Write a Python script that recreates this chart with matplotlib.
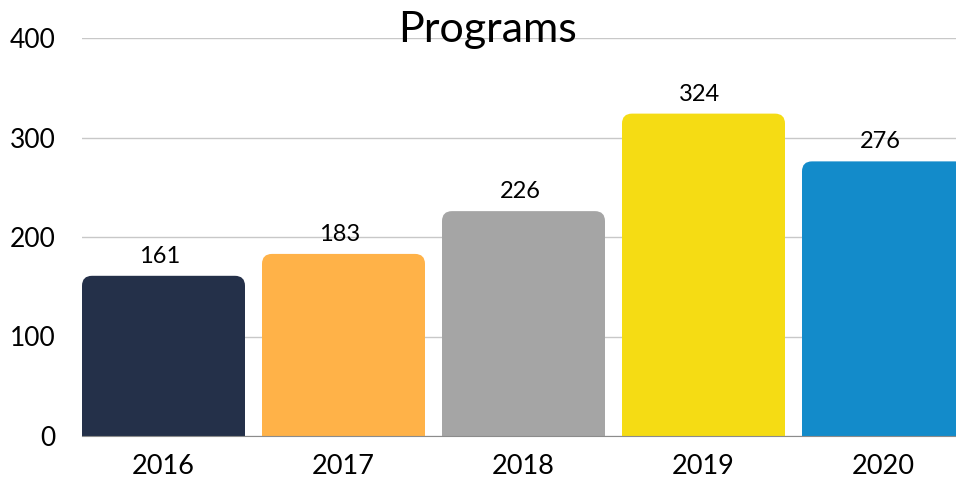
import matplotlib
matplotlib.use("Agg")
import matplotlib.pyplot as plt
from matplotlib.patches import FancyBboxPatch

years = ["2016", "2017", "2018", "2019", "2020"]
values = [161, 183, 226, 324, 276]
colors = ["#243049", "#FFB248", "#A5A5A5", "#F5DC14", "#138BCA"]
yticks = [0, 100, 200, 300, 400]
title = "Programs"

W, H = 956, 483
fig = plt.figure(figsize=(W / 100, H / 100), dpi=100)
left, right = 82 / W, 1.0
bottom, top = 1 - 436 / H, 1 - 38 / H
ax = fig.add_axes([left, bottom, right - left, top - bottom])

bw = 163 / 180
ax.set_xlim(-bw / 2, (956 - 163.5) / 180)
ax.set_ylim(0, 400)

xpx_per_unit = 180.0
ypx_per_unit = (436 - 38) / 400
r_px = 10
r_x = r_px / xpx_per_unit
aspect = (1 / ypx_per_unit) / (1 / xpx_per_unit)

for i, (v, c) in enumerate(zip(values, colors)):
    p = FancyBboxPatch((i - bw / 2, -20), bw, v + 20,
                       boxstyle=f"round,pad=0,rounding_size={r_x}",
                       mutation_aspect=aspect, facecolor=c,
                       edgecolor="none", zorder=3)
    ax.add_patch(p)
    ax.text(i - 0.02, v + 9, str(v), ha="center", va="bottom",
            fontsize=17, family="Lato", color="black", zorder=4)

ax.set_yticks(yticks)
ax.set_yticklabels([str(t) for t in yticks], fontsize=19, family="Lato")
ax.set_xticks(range(len(years)))
ax.set_xticklabels(years, fontsize=19.5, family="Lato")
ax.tick_params(axis="both", length=0)
ax.tick_params(axis="y", pad=19)
ax.tick_params(axis="x", pad=13)
ax.yaxis.grid(True, color="#C8C8C8", linewidth=1, zorder=0)
ax.set_axisbelow(True)
for s in ["top", "right", "left"]:
    ax.spines[s].set_visible(False)
ax.spines["bottom"].set_color("#8C8C8C")
ax.spines["bottom"].set_zorder(5)

fig.text(488 / W, 1 - 42 / H, title, ha="center", va="baseline",
         fontsize=31, family="Lato", color="black")

fig.savefig("out.png", dpi=100)
